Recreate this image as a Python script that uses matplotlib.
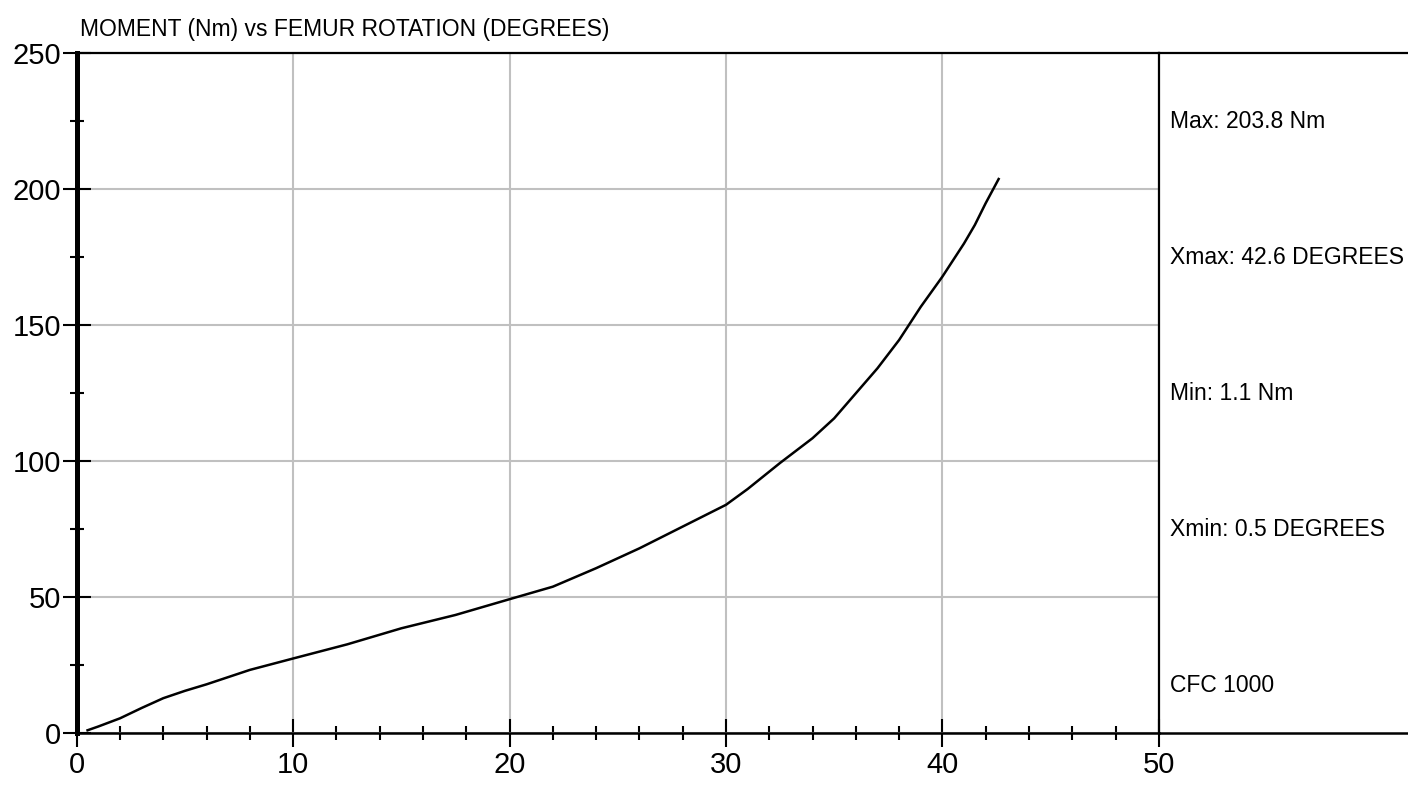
'''Moment vs femur rotation curve with a side summary panel.'''
from matplotlib import pyplot as plt
from matplotlib.ticker import MultipleLocator

rotation_deg = [0.5, 1, 2, 3, 4, 5, 6, 8, 10, 12.5, 15, 17.5, 20, 22, 24, 26,
                28, 30, 31, 32.5, 34, 35, 36, 37, 38, 39, 40, 41, 41.5, 42, 42.6]
moment_nm = [1.1, 2.5, 5.5, 9.3, 12.9, 15.6, 18.0, 23.3, 27.5, 32.7, 38.6, 43.5,
             49.3, 53.9, 60.7, 68.0, 76.0, 84.0, 89.8, 99.4, 108.5, 115.8, 125.0,
             134.2, 144.6, 156.8, 167.9, 180.1, 186.9, 194.9, 203.8]

title = 'MOMENT (Nm) vs FEMUR ROTATION (DEGREES)'
summary = ['Max: 203.8 Nm', 'Xmax: 42.6 DEGREES', 'Min: 1.1 Nm',
           'Xmin: 0.5 DEGREES', 'CFC 1000']
summary_y = [0.9, 0.7, 0.5, 0.3, 0.07]

plt.rcParams['font.family'] = ['Liberation Sans', 'DejaVu Sans']

fig = plt.figure(figsize=(14.08, 7.85), dpi=100)
left, right, bottom, top = 0.0545, 0.823, 0.0659, 0.932
ax = fig.add_axes([left, bottom, right - left, top - bottom])

ax.plot(rotation_deg, moment_nm, color='black', linewidth=1.8)

# Axis limits and ticks
ax.set_xlim(0, 50)
ax.set_ylim(0, 250)
ax.xaxis.set_major_locator(MultipleLocator(10))
ax.xaxis.set_minor_locator(MultipleLocator(2))
ax.yaxis.set_major_locator(MultipleLocator(50))
ax.yaxis.set_minor_locator(MultipleLocator(25))
ax.tick_params(which='major', direction='inout', length=20, width=1.5,
               labelsize=21, pad=1)
ax.tick_params(which='minor', direction='inout', length=9.5, width=1.5)
ax.tick_params(axis='x', which='major', pad=3)
ax.grid(True, which='major', color='#c0c0c0', linewidth=1.5)
ax.set_axisbelow(True)

# Spines
ax.spines['left'].set_linewidth(3.6)
ax.spines['top'].set_linewidth(1.6)
ax.spines['bottom'].set_linewidth(1.8)
ax.spines['right'].set_linewidth(1.6)

ax.text(0.003, 1.035, title, transform=ax.transAxes, fontsize=16.5,
        va='center', ha='left')

# Side panel with summary values
side = fig.add_axes([right, bottom, 1 - right, top - bottom])
side.set_xlim(0, 1)
side.set_ylim(0, 1)
side.set_xticks([])
side.set_yticks([])
side.spines['left'].set_visible(False)
side.spines['right'].set_visible(False)
side.spines['top'].set_linewidth(1.6)
side.spines['bottom'].set_linewidth(1.8)
side.patch.set_alpha(0)
for label, y in zip(summary, summary_y):
    side.text(0.045, y, label, fontsize=16.5, va='center', ha='left')

fig.savefig('out.png', dpi=100)
